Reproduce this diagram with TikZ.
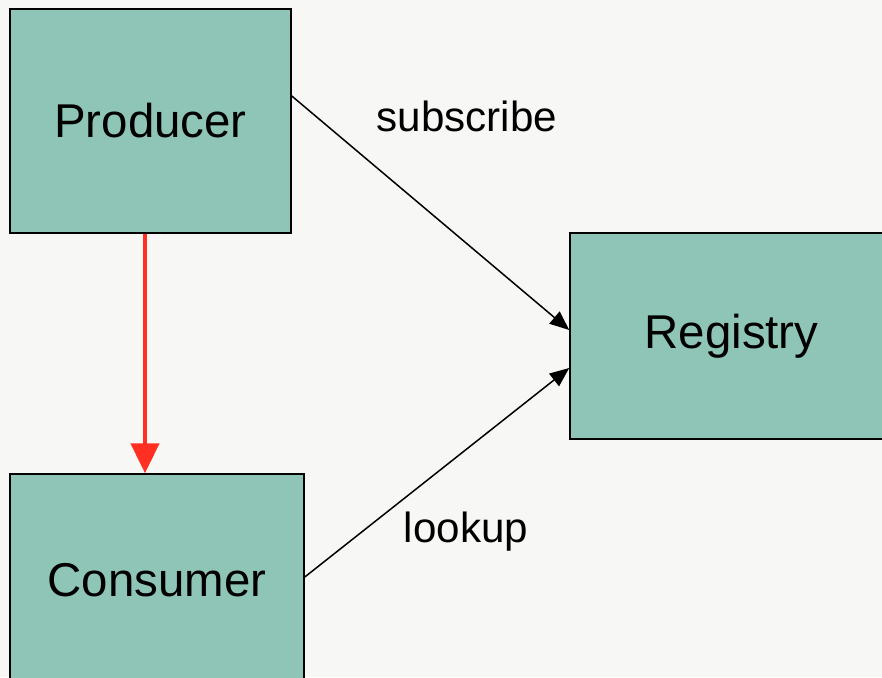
\documentclass[tikz,border=0pt]{standalone}
\usepackage{fontspec}
\setmainfont{Liberation Sans}
\usepackage{xcolor}
\usetikzlibrary{arrows.meta}
\definecolor{boxfill}{HTML}{8EC5B7}
\definecolor{paper}{HTML}{F7F7F5}
\definecolor{flowred}{HTML}{FF3022}

\begin{document}
\begin{tikzpicture}[x=0.02cm, y=0.02cm,
  part/.style={draw=black, line width=0.9pt, fill=boxfill, inner sep=0pt,
    font=\fontsize{27}{32}\selectfont},
  call/.style={line width=0.85pt, -{Triangle[length=11pt, width=9pt]}},
  callname/.style={font=\fontsize{24}{29}\selectfont}]
  % Background
  \fill[paper] (0,0) rectangle (882,677);
  \useasboundingbox (0,0) rectangle (882,677);
  % Boxes
  \node[part, minimum width=281*0.02cm, minimum height=224*0.02cm] (producer) at (150.5,556) {Producer};
  \node[part, minimum width=323*0.02cm, minimum height=206*0.02cm] (registry) at (731.5,341) {Registry};
  \node[part, minimum width=294*0.02cm, minimum height=212*0.02cm] (consumer) at (157,97) {Consumer};
  % Connectors
  \draw[flowred, line width=2.3pt, -{Triangle[length=17pt, width=16pt]}]
    ([xshift=-5.5*0.02cm]producer.south) -- ([xshift=-5.5*0.02cm]producer.south |- consumer.north);
  \draw[call] ([yshift=25*0.02cm]producer.east) -- ([yshift=6*0.02cm]registry.west);
  \draw[call] ([yshift=3*0.02cm]consumer.east) -- ([yshift=-32*0.02cm]registry.west);
  % Labels
  \node[callname] (subscribe) at (467,561) {subscribe};
  \node[callname] (lookup) at (466,145) {lookup};
\end{tikzpicture}
\end{document}
